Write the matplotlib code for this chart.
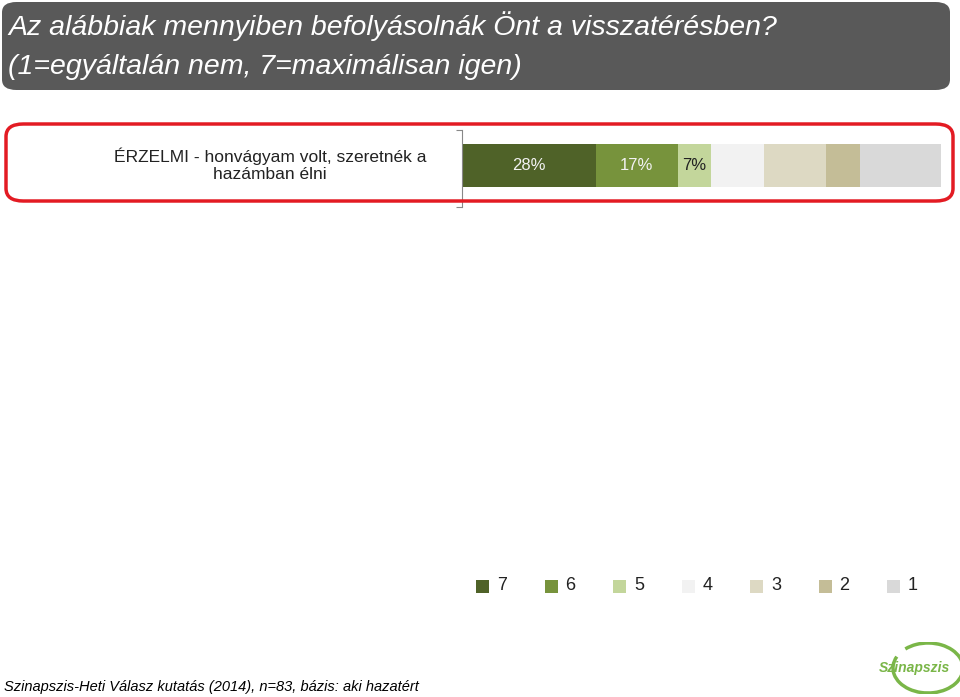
import matplotlib
matplotlib.use("Agg")
import matplotlib.pyplot as plt
from matplotlib.patches import FancyBboxPatch, Arc, Rectangle

categories = ["ÉRZELMI - honvágyam volt, szeretnék a\nhazámban élni"]
levels = ["7", "6", "5", "4", "3", "2", "1"]
values = [28, 17, 7, 11, 13, 7, 17]
labels_shown = ["28%", "17%", "7%", "", "", "", ""]
colors = ["#4f6228", "#77933c", "#c3d69b", "#f2f2f2", "#ddd9c3", "#c4bd97", "#d9d9d9"]

W, H = 960, 697
fig = plt.figure(figsize=(9.6, 6.97), dpi=100)
fx = lambda x: x / W
fy = lambda y: 1 - y / H

# title box
fig.patches.append(FancyBboxPatch((fx(2), fy(90)), fx(948), 88 / H,
    boxstyle="round,pad=0,rounding_size=0.015", transform=fig.transFigure,
    facecolor="#595959", edgecolor="none"))
fig.text(fx(8), fy(26), "Az alábbiak mennyiben befolyásolnák Önt a visszatérésben?",
         color="white", fontsize=20.5, style="italic", family="Liberation Sans", va="center")
fig.text(fx(8), fy(67), "(1=egyáltalán nem, 7=maximálisan igen)",
         color="white", fontsize=20.5, style="italic", family="Liberation Sans", va="center")

# red rounded box
fig.patches.append(FancyBboxPatch((fx(6), fy(201)), fx(947), 77 / H,
    boxstyle="round,pad=0,rounding_size=0.018", transform=fig.transFigure,
    facecolor="none", edgecolor="#e31b23", linewidth=2.5))

ax = fig.add_axes([fx(462), fy(207), fx(941) - fx(462), 77 / H])
left = 0
for v, c, lab in zip(values, colors, labels_shown):
    ax.barh(0.04, v, left=left, height=0.55, color=c, edgecolor="none")
    if lab:
        ax.text(left + v / 2, 0.04, lab, ha="center", va="center", fontsize=12,
                color="#f2f2f2" if c in ("#4f6228", "#77933c") else "#222222",
                family="Liberation Sans")
    left += v
ax.set_xlim(0, 100)
ax.set_ylim(-0.5, 0.5)
ax.set_xticks([])
ax.set_yticks([-0.5, 0.5])
ax.set_yticklabels([])
ax.tick_params(axis="y", length=4, color="#888888")
for s in ["top", "right", "bottom"]:
    ax.spines[s].set_visible(False)
ax.spines["left"].set_color("#888888")
ax.patch.set_alpha(0)

fig.text(fx(270), fy(165), categories[0], ha="center", va="center", fontsize=12.5,
         family="Liberation Sans", color="#222222", linespacing=1.2)

# legend
lx = 476
step = 68.5
for i, (lv, c) in enumerate(zip(levels, colors)):
    x = lx + i * step
    fig.patches.append(Rectangle((fx(x), fy(593)), 13 / W, 13 / H,
                                 transform=fig.transFigure, facecolor=c, edgecolor="none"))
    fig.text(fx(x + 21), fy(586), lv, fontsize=13, va="center",
             family="Liberation Sans", color="#222222")

# footer
fig.text(fx(4), fy(687), "Szinapszis-Heti Válasz kutatás (2014), n=83, bázis: aki hazatért",
         fontsize=10.5, style="italic", family="Liberation Sans", va="center")

# logo
lax = fig.add_axes([fx(880), fy(694), fx(80), 52 / H])
lax.set_xlim(0, 80); lax.set_ylim(0, 52); lax.axis("off")
lax.add_patch(Arc((48, 26), 70, 50, theta1=-200, theta2=140, color="#7ab648", lw=2.5))
lax.text(34, 26, "Szinapszis", fontsize=10, weight="bold", color="#7ab648",
         ha="center", va="center", family="Liberation Sans", style="italic")

fig.savefig("out.png", dpi=100)
